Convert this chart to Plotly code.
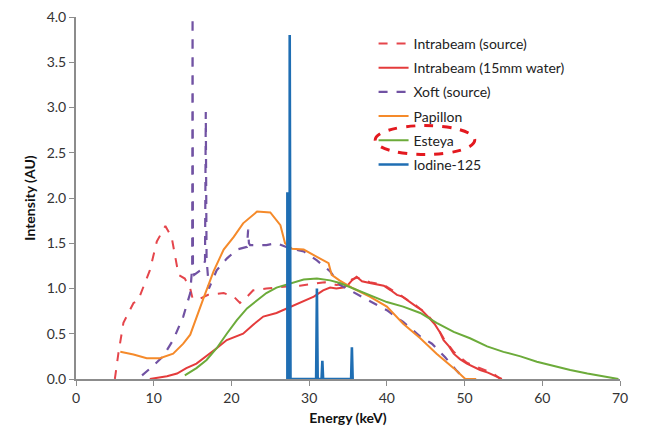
import plotly.graph_objects as go

# ---------------- data ----------------
ib_src_x = [5.0, 5.45, 6.1, 6.7, 7.4, 8.0, 8.7, 9.5, 10.4, 11.5, 12.3, 13.2, 14.0, 14.7, 15.0, 16.0, 17.0,
            19.0, 20.3, 21.1, 21.8, 22.8, 24.5, 26.7, 28.8, 30.6, 32.0, 33.5, 34.8, 35.5, 36.2, 37.8,
            39.6, 41.3, 42.6, 43.8, 45.1, 46.2, 47.3, 48.6, 50.3, 52.0, 53.7, 54.6]
ib_src_y = [0.0, 0.28, 0.62, 0.73, 0.84, 0.87, 1.02, 1.2, 1.52, 1.69, 1.57, 1.15, 1.11, 1.0, 0.89, 0.89, 0.93,
            0.95, 0.91, 0.84, 0.89, 0.98, 1.0, 1.02, 1.03, 1.05, 1.07, 1.04, 1.05, 1.1, 1.12, 1.07,
            1.04, 0.95, 0.88, 0.81, 0.72, 0.61, 0.45, 0.30, 0.18, 0.12, 0.06, 0.0]

ib_w_x = [9.5, 11.7, 13.0, 14.2, 15.5, 16.8, 18.1, 19.4, 20.7, 21.5, 22.8, 24.1, 25.8, 27.1, 28.8, 30.6,
          31.8, 32.7, 33.5, 34.4, 35.0, 35.5, 36.1, 36.8, 37.8, 38.6, 39.6, 40.5, 41.3, 42.0, 42.6, 43.2,
          43.8, 44.5, 45.1, 45.6, 46.2, 46.8, 47.3, 48.0, 48.6, 49.4, 50.3, 51.2, 52.0, 53.0, 53.7, 54.8]
ib_w_y = [0.0, 0.03, 0.06, 0.12, 0.17, 0.25, 0.34, 0.43, 0.47, 0.50, 0.60, 0.69, 0.73, 0.78, 0.84, 0.91,
          0.98, 1.01, 1.0, 1.01, 1.04, 1.09, 1.13, 1.08, 1.06, 1.05, 1.03, 0.98, 0.93, 0.91, 0.87, 0.84,
          0.80, 0.76, 0.71, 0.66, 0.60, 0.52, 0.43, 0.36, 0.28, 0.22, 0.17, 0.13, 0.10, 0.07, 0.04, 0.0]

xoft_x = [8.5, 10.0, 11.2, 12.5, 13.8, 14.7, 14.95, 15.0, 15.05, 15.2, 16.0, 16.6, 16.7, 16.8, 17.1, 18.1,
          19.4, 20.7, 22.0, 22.15, 22.25, 22.4, 24.5, 25.8, 27.6, 29.3, 31.0, 32.7, 33.95, 35.7, 37.8,
          40.0, 42.1, 44.3, 45.8, 47.5, 49.0, 50.0]
xoft_y = [0.04, 0.15, 0.25, 0.43, 0.69, 0.95, 1.24, 4.0, 1.2, 1.15, 1.2, 1.3, 2.95, 1.33, 1.0, 1.2,
          1.33, 1.43, 1.46, 1.65, 1.5, 1.48, 1.48, 1.5, 1.44, 1.41, 1.31, 1.19, 1.04, 0.96, 0.87,
          0.76, 0.63, 0.47, 0.39, 0.24, 0.09, 0.0]

pap_x = [5.7, 7.4, 9.1, 10.8, 12.5, 13.8, 14.7, 15.5, 16.4, 17.7, 19.0, 20.3, 21.5, 23.3, 25.0, 26.3,
         26.9, 27.8, 29.3, 31.0, 31.8, 32.5, 32.9, 33.9, 35.7, 37.8, 40.0, 42.1, 44.3, 46.4, 48.6,
         50.1, 51.5]
pap_y = [0.30, 0.27, 0.23, 0.23, 0.28, 0.39, 0.49, 0.69, 0.89, 1.19, 1.43, 1.57, 1.72, 1.85, 1.84, 1.70,
         1.50, 1.44, 1.43, 1.35, 1.31, 1.28, 1.15, 1.09, 1.0, 0.91, 0.80, 0.61, 0.45, 0.28, 0.12,
         0.0, 0.0]

est_x = [14.0, 15.5, 16.8, 18.1, 19.4, 20.7, 22.0, 23.3, 24.5, 25.8, 27.6, 29.3, 31.0, 32.7, 33.95,
         35.7, 37.8, 40.0, 42.1, 44.3, 46.4, 48.6, 50.7, 52.9, 55.0, 57.2, 59.3, 61.5, 63.6, 65.8,
         67.9, 69.8]
est_y = [0.04, 0.12, 0.21, 0.34, 0.50, 0.65, 0.78, 0.87, 0.95, 1.01, 1.06, 1.10, 1.11, 1.09, 1.06,
         1.0, 0.93, 0.85, 0.80, 0.73, 0.62, 0.52, 0.45, 0.36, 0.30, 0.25, 0.19, 0.14, 0.10, 0.06,
         0.03, 0.0]

iod_x = [27.1, 27.2, 27.2, 27.3, 27.3, 27.5, 27.5, 27.6, 30.9, 31.0, 31.1, 31.6, 31.7, 31.8, 35.4, 35.5, 35.6]
iod_y = [0.0, 0.0, 2.05, 2.05, 0.0, 0.0, 3.80, 0.0, 0.0, 1.0, 0.0, 0.0, 0.20, 0.0, 0.0, 0.35, 0.0]

names = ["Intrabeam (source)", "Intrabeam (15mm water)", "Xoft (source)", "Papillon", "Esteya", "Iodine-125"]

x_ticks = [0, 10, 20, 30, 40, 50, 60, 70]
y_ticks = [0.0, 0.5, 1.0, 1.5, 2.0, 2.5, 3.0, 3.5, 4.0]

# ---------------- figure ----------------
FONT = "Lato, 'Open Sans', sans-serif"
fig = go.Figure()

series = [
    (ib_src_x, ib_src_y, "#E5454B", "dash", 2),
    (ib_w_x, ib_w_y, "#E43B3B", "solid", 2),
    (xoft_x, xoft_y, "#7152A3", "dash", 2.2),
    (pap_x, pap_y, "#F58A2A", "solid", 2),
    (est_x, est_y, "#6CAB3A", "solid", 2),
    (iod_x, iod_y, "#1F6EB3", "solid", 2.6),
]
for i, (xs, ys, col, dash, w) in enumerate(series):
    fig.add_trace(go.Scatter(x=xs, y=ys, mode="lines", name=names[i], legendgroup=str(i),
                             line=dict(color=col, dash=dash, width=w)))

fig.add_shape(type="circle", xref="paper", yref="paper", x0=0.55, x1=0.733, y0=0.62, y1=0.70,
              line=dict(color="#E3191F", width=3, dash="dash"))

fig.update_layout(
    width=638, height=438,
    margin=dict(l=68, r=26, t=9, b=67),
    paper_bgcolor="white", plot_bgcolor="white",
    font=dict(family=FONT, size=14, color="#222"),
    showlegend=True,
    legend=dict(x=0.547, y=0.970, xanchor="left", yanchor="top", traceorder="grouped",
                tracegroupgap=3, font=dict(size=14, color="#222"), bgcolor="rgba(0,0,0,0)"),
    xaxis=dict(range=[0, 70], tickvals=x_ticks, ticks="outside", ticklen=5, tickcolor="#8c8c8c",
               showline=True, linecolor="#8c8c8c", linewidth=2, showgrid=False, zeroline=False,
               tickfont=dict(size=14, color="#333"), ticklabeloverflow="allow", automargin=False,
               title=dict(text="<b>Energy (keV)</b>", font=dict(size=14, color="#111"), standoff=8)),
    yaxis=dict(range=[0, 4], tickvals=y_ticks, tickformat=".1f", ticks="outside", ticklen=5,
               tickcolor="#8c8c8c", showline=True, linecolor="#8c8c8c", linewidth=2, showgrid=False,
               zeroline=False, tickfont=dict(size=14, color="#333"), ticklabeloverflow="allow",
               automargin=False,
               title=dict(text="<b>Intensity (AU)</b>", font=dict(size=14, color="#111"), standoff=8)),
)

fig.write_html("out.html")
